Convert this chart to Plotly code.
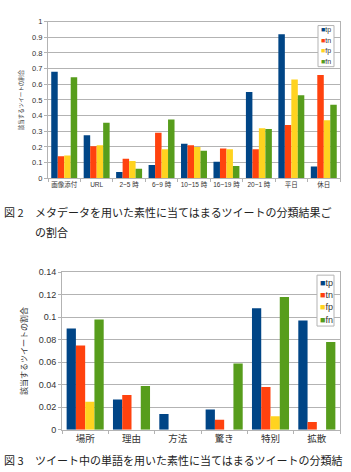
import plotly.graph_objects as go

W, H = 351, 472

# ---- data ----
series = ["tp", "tn", "fp", "fn"]
colors = ["#004586", "#ff420e", "#ffd320", "#579d1c"]

cats1 = ["画像添付", "URL", "2~5 時", "6~9 時", "10~15 時", "16~19 時", "20~1 時", "平日", "休日"]
tp1 = [0.68, 0.275, 0.04, 0.085, 0.22, 0.105, 0.55, 0.92, 0.075]
tn1 = [0.14, 0.205, 0.125, 0.29, 0.21, 0.19, 0.185, 0.34, 0.66]
fp1 = [0.145, 0.21, 0.11, 0.185, 0.2, 0.185, 0.32, 0.63, 0.37]
fn1 = [0.645, 0.355, 0.06, 0.375, 0.175, 0.078, 0.315, 0.53, 0.47]

cats2 = ["場所", "理由", "方法", "驚き", "特別", "拡散"]
tp2 = [0.09, 0.027, 0.014, 0.018, 0.108, 0.097]
tn2 = [0.075, 0.031, 0.0, 0.009, 0.038, 0.007]
fp2 = [0.025, 0.0, 0.0, 0.0, 0.012, 0.0]
fn2 = [0.098, 0.039, 0.0, 0.059, 0.118, 0.078]

ytitle = "該当するツイートの割合"
fig2_label = "図 2"
caption1a = "メタデータを用いた素性に当てはまるツイートの分類結果ご"
caption1b = "の割合"
fig3_label = "図 3"
caption2 = "ツイート中の単語を用いた素性に当てはまるツイートの分類結"

FONT = "Liberation Sans, Noto Sans CJK JP, sans-serif"
CJK = "Noto Sans CJK JP, sans-serif"
GRID = "#b3b3b3"
TXT = "#333333"


def px(x):
    return x / W


def py(y):
    return 1 - y / H


fig = go.Figure()
for name, col, vals in zip(series, colors, [tp1, tn1, fp1, fn1]):
    fig.add_trace(go.Bar(x=cats1, y=vals, name=name, marker_color=col,
                         marker_line_width=0, xaxis="x", yaxis="y", showlegend=False))
for name, col, vals in zip(series, colors, [tp2, tn2, fp2, fn2]):
    fig.add_trace(go.Bar(x=cats2, y=vals, name=name, marker_color=col,
                         marker_line_width=0, xaxis="x2", yaxis="y2", showlegend=False))

common_x = dict(type="category", showline=True, mirror=True, linecolor=GRID, linewidth=1,
                ticks="outside", tickson="boundaries", ticklen=3, tickcolor=GRID,
                showgrid=False, fixedrange=True, tickangle=0)
common_y = dict(showline=True, mirror=True, linecolor=GRID, linewidth=1,
                ticks="outside", ticklen=3, tickcolor=GRID, showgrid=True,
                gridcolor=GRID, gridwidth=1, zeroline=False)

fig.update_layout(
    width=W, height=H,
    margin=dict(l=0, r=0, t=0, b=0),
    paper_bgcolor="white", plot_bgcolor="white",
    barmode="group", bargap=0.2, bargroupgap=0.0,
    font=dict(family=FONT, color=TXT),
    xaxis=dict(domain=[px(48), px(340)], anchor="y",
               tickfont=dict(size=6.5, family=FONT, color=TXT), **common_x),
    yaxis=dict(domain=[py(177), py(17)], anchor="x", range=[0, 1], dtick=0.1,
               tickfont=dict(size=7.5, color=TXT),
               title=dict(text=ytitle, font=dict(size=5.5, family=CJK, color=TXT), standoff=8),
               **common_y),
    xaxis2=dict(domain=[px(62), px(340)], anchor="y2",
                tickfont=dict(size=9.5, family=FONT, color=TXT), **common_x),
    yaxis2=dict(domain=[py(434), py(273)], anchor="x2", range=[0, 0.14], dtick=0.02,
                tickfont=dict(size=9, color=TXT),
                title=dict(text=ytitle, font=dict(size=8, family=CJK, color=TXT), standoff=9),
                **common_y),
)

# legends (drawn as annotations + frame)
def add_legend(x0, x1, y0, y1, rows_y, fsize):
    fig.add_shape(type="rect", xref="paper", yref="paper",
                  x0=px(x0), x1=px(x1), y0=py(y1), y1=py(y0),
                  line=dict(color=GRID, width=1), fillcolor="white", layer="above")
    for name, col, yy in zip(series, colors, rows_y):
        fig.add_annotation(xref="paper", yref="paper", x=px(x0 + 1), y=py(yy),
                           xanchor="left", yanchor="middle", showarrow=False,
                           text=f"<span style='color:{col}'>■</span>{name}",
                           font=dict(size=fsize, family=FONT, color=TXT))

add_legend(318, 334, 21, 63, [26, 36.5, 47, 57.5], 7)
add_legend(317, 334, 276, 328, [284, 296.5, 309, 321.5], 9)

# captions
def caption(x, y, text):
    fig.add_annotation(xref="paper", yref="paper", x=px(x), y=py(y), xanchor="left",
                       yanchor="middle", showarrow=False, text=text,
                       font=dict(size=11, family=CJK, color="#222222"))

caption(2, 211, fig2_label)
caption(33, 211, caption1a)
caption(33, 232, caption1b)
caption(2, 465, fig3_label)
caption(33, 465, caption2)

fig.write_html("out.html")
